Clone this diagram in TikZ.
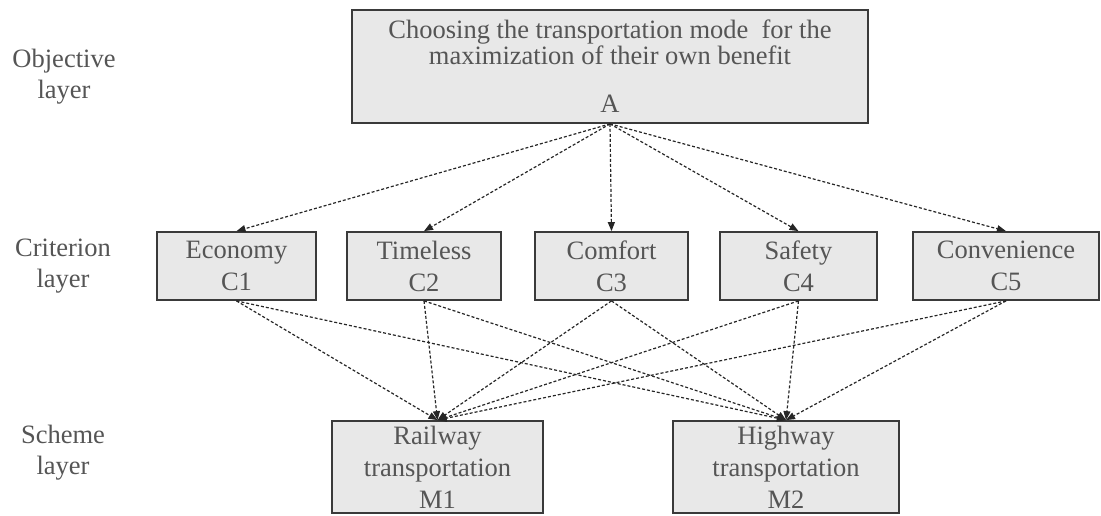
\documentclass[tikz,border=0pt]{standalone}
\usepackage{fontspec}
\setmainfont{Liberation Serif}
\usetikzlibrary{arrows.meta}
\definecolor{boxfill}{HTML}{E8E8E8}
\definecolor{boxline}{HTML}{3A3A3A}
\definecolor{txt}{HTML}{555555}
\begin{document}
\begin{tikzpicture}[x=1pt,y=-1pt,
  box/.style={draw=boxline, line width=1.8pt, fill=boxfill, text=txt, align=center,
    inner sep=0pt, font=\fontsize{26.5}{32}\selectfont},
  lay/.style={text=txt, align=center, font=\fontsize{26.5}{31}\selectfont},
  link/.style={draw=black!85, line width=1.2pt, dash pattern=on 3pt off 2pt,
    -{Triangle[length=9pt,width=7pt]}}]
\useasboundingbox (0,0) rectangle (1101,515);
% layer labels
\node[lay] (lo) at (64,77) {Objective\\layer};
\node[lay] (lc) at (63,266) {Criterion\\layer};
\node[lay] (ls) at (63,453) {Scheme\\layer};
% objective
\node[box, minimum width=516, minimum height=113] (A) at (610,66.5)
  {Choosing the transportation mode\ \ for the\\[-6pt]maximization of their own benefit\\[16pt]A};
% criteria
\node[box, minimum width=159, minimum height=68] (C1) at (236.5,266) {Economy\\C1};
\node[box, minimum width=154, minimum height=68] (C2) at (424,266) {Timeless\\C2};
\node[box, minimum width=153, minimum height=68] (C3) at (611.5,266) {Comfort\\C3};
\node[box, minimum width=157, minimum height=68] (C4) at (798.5,266) {Safety\\C4};
\node[box, minimum width=186, minimum height=68] (C5) at (1006,266) {Convenience\\C5};
% schemes
\node[box, minimum width=211, minimum height=92] (M1) at (437.5,467) {Railway\\transportation\\M1};
\node[box, minimum width=226, minimum height=92] (M2) at (786,467) {Highway\\transportation\\M2};
% connectors
\foreach \c in {C1,C2,C3,C4,C5} {
  \draw[link] (A.south) -- (\c.north);
  \draw[link] (\c.south) -- (M1.north);
  \draw[link] (\c.south) -- (M2.north);
}
\end{tikzpicture}
\end{document}
